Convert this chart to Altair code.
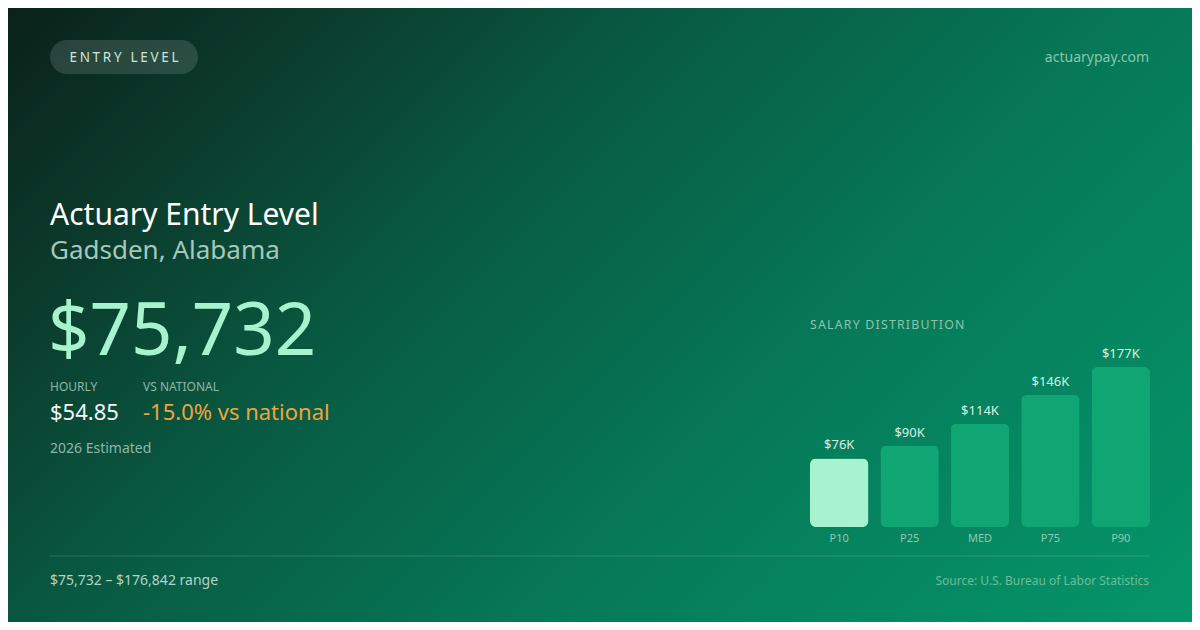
import altair as alt
import pandas as pd

# ---- data ----
categories = ["P10", "P25", "MED", "P75", "P90"]
values_k = [75.732, 90.0, 114.0, 146.0, 176.842]
value_labels = ["$76K", "$90K", "$114K", "$146K", "$177K"]
highlight = [True, False, False, False, False]

badge_text = "ENTRY LEVEL"
site_text = "actuarypay.com"
title_text = "Actuary Entry Level"
location_text = "Gadsden, Alabama"
salary_text = "$75,732"
hourly_label = "HOURLY"
hourly_value = "$54.85"
national_label = "VS NATIONAL"
national_value = "-15.0% vs national"
estimate_text = "2026 Estimated"
dist_title = "SALARY DISTRIBUTION"
range_text = "$75,732 \u2013 $176,842 range"
source_text = "Source: U.S. Bureau of Labor Statistics"

W, H = 1184, 614
FONT = "Noto Sans"
HS = "\u200a"


def spaced(s, sep=HS):
    return sep.join(list(s))


df = pd.DataFrame({"cat": categories, "val": values_k, "label": value_labels, "hi": highlight})
one = pd.DataFrame({"a": [0]})

grad = alt.LinearGradient(
    gradient="linear",
    stops=[
        alt.GradientStop(color="#0a211a", offset=0),
        alt.GradientStop(color="#0b3a2b", offset=0.17),
        alt.GradientStop(color="#085c43", offset=0.38),
        alt.GradientStop(color="#067b5a", offset=0.66),
        alt.GradientStop(color="#05966a", offset=1),
    ],
    x1=0, y1=0, x2=1.197, y2=0.621,
)

bg = alt.Chart(one).mark_rect(fill=grad).encode(
    x=alt.value(0), x2=alt.value(W), y=alt.value(0), y2=alt.value(H)
)

badge = alt.Chart(one).mark_rect(cornerRadius=17, fill="#ffffff", fillOpacity=0.13).encode(
    x=alt.value(42), x2=alt.value(190), y=alt.value(32), y2=alt.value(66)
)


def txt(text, x, y, size, color, align="left", baseline="middle", weight="normal"):
    return alt.Chart(one).mark_text(
        text=text, align=align, baseline=baseline, font=FONT, fontSize=size,
        color=color, fontWeight=weight,
    ).encode(x=alt.value(x), y=alt.value(y))


texts = [
    txt(spaced(badge_text, HS + HS), 116, 50, 13.5, "#cde5db", align="center"),
    txt(site_text, 1141, 50, 14, "#86c6ad", align="right"),
    txt(title_text, 42, 217, 30, "#ffffff", baseline="alphabetic"),
    txt(location_text, 42, 251, 26, "#a4c8ba", baseline="alphabetic"),
    txt(salary_text, 40, 347, 72.5, "#a7f3d0", baseline="alphabetic"),
    txt(hourly_label, 42, 379, 12, "#8bb8a6"),
    txt(national_label, 135, 379, 12, "#8bb8a6"),
    txt(hourly_value, 42, 412, 22, "#f1f7f4", baseline="alphabetic"),
    txt(national_value, 135, 412, 22, "#eea43f", baseline="alphabetic"),
    txt(estimate_text, 42, 441, 14, "#8bb8a6"),
    txt(range_text, 42, 573, 14, "#b4d3c7"),
    txt(source_text, 1141, 573, 12, "#6fbc9a", align="right"),
    txt(spaced(dist_title), 802, 317, 12.3, "#8fc3ae"),
]

rule = alt.Chart(one).mark_rule(color="#ffffff", strokeOpacity=0.15, strokeWidth=1).encode(
    x=alt.value(42), x2=alt.value(1142), y=alt.value(548)
)

xs = alt.X("cat:N", sort=categories, axis=None,
           scale=alt.Scale(range=[802, 1142], paddingInner=0.17, paddingOuter=0))
ys = alt.Y("val:Q", axis=None, scale=alt.Scale(domain=[0, 176.842], range=[519, 359]))

bars = alt.Chart(df).mark_bar(cornerRadius=6).encode(
    x=xs, y=ys,
    color=alt.Color("hi:N", scale=alt.Scale(domain=[True, False], range=["#a7f3d0", "#0fa674"]), legend=None),
)

bar_labels = alt.Chart(df).mark_text(
    font=FONT, fontSize=13, color="#d6f0e5", baseline="middle", dy=-13
).encode(x=xs, y=ys, text="label:N")

cat_labels = alt.Chart(df).mark_text(
    font=FONT, fontSize=11, color="#93c7b2", baseline="middle"
).encode(x=xs, y=alt.value(531), text="cat:N")

chart = alt.layer(bg, badge, rule, bars, bar_labels, cat_labels, *texts).properties(
    width=W, height=H, padding=0, autosize=alt.AutoSizeParams(type="none"),
    background="#0a2a1e",
).configure_view(stroke=None)

chart.save("out.html", embed_options={"renderer": "svg", "actions": False})
